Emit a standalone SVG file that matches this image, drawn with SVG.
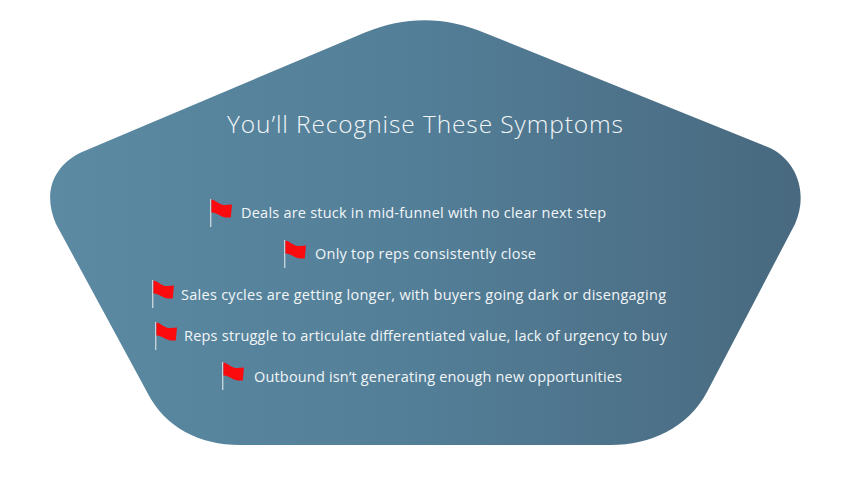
<svg xmlns="http://www.w3.org/2000/svg" xmlns:xlink="http://www.w3.org/1999/xlink" width="849" height="479" viewBox="0 0 849 479">
<style>
text{font-family:"Open Sans","Noto Sans",sans-serif;fill:#f2f6f8}
.t{font-size:24.500px;font-weight:300}
.l{font-size:14.500px}
</style>
<defs>
<linearGradient id="g" x1="50" y1="0" x2="800" y2="0" gradientUnits="userSpaceOnUse">
<stop offset="0" stop-color="#5b8aa2"/><stop offset="0.5" stop-color="#537e97"/><stop offset="1" stop-color="#48697f"/>
</linearGradient>
<g id="flag">
<rect x="0" y="0" width="1.400" height="28" fill="#c4d2da"/>
<path d="M1.400 .5C5 1 8 4.500 11.500 5.500C14.500 6.300 18 6 22 5.500L20.800 18.500C17 18.800 14 18.500 11 17C8 15.500 5 13.500 1.400 13.500Z" fill="#fb0a0e"/>
</g>
</defs>
<rect width="849" height="479" fill="#fff"/>
<path d="M365 32.500C405 16 445 16 485 33L769 147.500C796 160 809 192 795 224L707 392C688 428 650 445 611 445H240C200 445 165 428 147 392L56 224C42 192 54 165 82 152Z" fill="url(#g)"/>
<text class="t" x="425" y="133" text-anchor="middle" textLength="396">You’ll Recognise These Symptoms</text>
<use xlink:href="#flag" href="#flag" x="210" y="199"/>
<text class="l" x="241" y="218" textLength="365">Deals are stuck in mid-funnel with no clear next step</text>
<use xlink:href="#flag" href="#flag" x="284" y="240"/>
<text class="l" x="315" y="259" textLength="221">Only top reps consistently close</text>
<use xlink:href="#flag" href="#flag" x="152" y="280"/>
<text class="l" x="181" y="300" textLength="485">Sales cycles are getting longer, with buyers going dark or disengaging</text>
<use xlink:href="#flag" href="#flag" x="155" y="322"/>
<text class="l" x="184" y="341" textLength="483">Reps struggle to articulate differentiated value, lack of urgency to buy</text>
<use xlink:href="#flag" href="#flag" x="222" y="362"/>
<text class="l" x="254" y="382" textLength="368">Outbound isn’t generating enough new opportunities</text>
</svg>
